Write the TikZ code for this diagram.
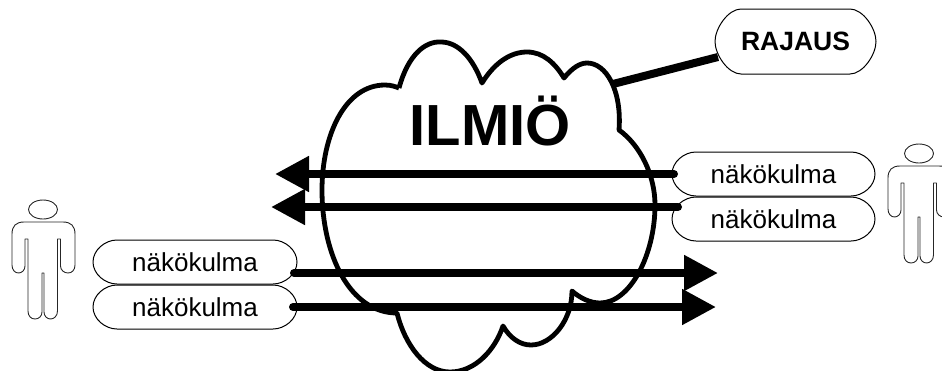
\documentclass[tikz,border=0pt]{standalone}
\usepackage{fontspec}
\setmainfont{Liberation Sans}
\usetikzlibrary{arrows.meta,calc}
\tikzset{
  pill/.style={inner sep=0pt,outer sep=0pt,
    minimum width=204pt,minimum height=44pt,font=\fontsize{26}{28}\selectfont},
  pillline/.style={draw=black,line width=1pt,fill=white,line join=round},
  bigarrow/.style={line width=8pt,line cap=round,-{Triangle[width=34pt,length=34pt]}},
  cloudline/.style={line width=4.8pt,line join=round},
  person/.pic={
    \draw[line width=0.9pt,draw=black!85] (43,209.5) ellipse [x radius=14.5,y radius=9.5];
    \draw[line width=0.9pt,draw=black!85,line join=round]
      (12,234) .. controls (12,226) and (16,222) .. (24,222) -- (63,222)
      .. controls (71,222) and (75,226) .. (75,234) -- (75,265)
      .. controls (75,270) and (72,273) .. (68,273) .. controls (64,273) and (60.5,270) .. (60.5,266)
      -- (60.5,239) -- (57.5,239) -- (57.5,311)
      .. controls (57.5,316) and (54,319) .. (50.5,319) .. controls (47,319) and (44,316) .. (44,312)
      -- (44,273) -- (42,273) -- (42,312)
      .. controls (42,316) and (39,319) .. (35,319) .. controls (31,319) and (28,316) .. (28,311)
      -- (28,239) -- (25,239) -- (25,266)
      .. controls (25,270) and (22,273) .. (18.5,273) .. controls (15,273) and (12,270) .. (12,265) -- cycle;
  }
}
% outline of a pill round node #1, with corner reach #2
\newcommand{\pilloutline}[2]{%
  \draw[pillline] (#1.west)
    .. controls ($(#1.west)+(0,{-0.5*#2})$) and ($(#1.north west)+({0.5*#2},0)$) .. ($(#1.north west)+(#2,0)$)
    -- ($(#1.north east)+({-#2},0)$)
    .. controls ($(#1.north east)+({-0.5*#2},0)$) and ($(#1.east)+(0,{-0.5*#2})$) .. (#1.east)
    .. controls ($(#1.east)+(0,{0.5*#2})$) and ($(#1.south east)+({-0.5*#2},0)$) .. ($(#1.south east)+({-#2},0)$)
    -- ($(#1.south west)+(#2,0)$)
    .. controls ($(#1.south west)+({0.5*#2},0)$) and ($(#1.west)+(0,{0.5*#2})$) .. (#1.west) -- cycle;}
\begin{document}
\begin{tikzpicture}[x=1pt,y=-1pt]
\path[use as bounding box,clip] (0,0) rectangle (942,370);
% text boxes
\path node[pill] (pl1) at (195,262) {\phantom{näkökulma}};
\path node[pill] (pl2) at (195,307) {\phantom{näkökulma}};
\path node[pill,minimum width=203pt] (pr1) at (773.5,174) {\phantom{näkökulma}};
\path node[pill,minimum width=203pt] (pr2) at (773.5,219) {\phantom{näkökulma}};
\path node[pill,minimum width=161pt,minimum height=65pt] (raj) at (795.5,41.5) {};
\pilloutline{pl1}{24}
\pilloutline{pl2}{24}
\pilloutline{pr1}{24}
\pilloutline{pr2}{24}
\pilloutline{raj}{26}
\node[pill,minimum size=0pt] (tl1) at (pl1) {näkökulma};
\node[pill,minimum size=0pt] (tl2) at (pl2) {näkökulma};
\node[pill,minimum size=0pt] (tr1) at (pr1) {näkökulma};
\node[pill,minimum size=0pt] (tr2) at (pr2) {näkökulma};
\node[inner sep=0pt,font=\fontsize{26.5}{28}\selectfont\bfseries] (tr3) at (raj) {RAJAUS};
% cloud
\draw[cloudline] (399,88)
  .. controls (408,55) and (425,41) .. (441,42)
  .. controls (458,42) and (473,58) .. (482,83)
  .. controls (495,62) and (511,52) .. (527,52)
  .. controls (543,52) and (555,63) .. (564,78)
  .. controls (572,68) and (580,63) .. (587,63)
  .. controls (606,63) and (622,90) .. (619,130)
  .. controls (640,145) and (655,175) .. (655,205)
  .. controls (655,255) and (630,303) .. (600,303)
  .. controls (590,303) and (580,298) .. (572,291)
  .. controls (572,320) and (552,345) .. (531,345)
  .. controls (520,345) and (510,338) .. (503,326)
  .. controls (495,350) and (475,372) .. (450,372)
  .. controls (425,372) and (405,345) .. (397,313)
  .. controls (350,313) and (322,255) .. (322,190)
  .. controls (322,135) and (345,85) .. (385,85)
  .. controls (392,85) and (396,87) .. (399,88);
\node[anchor=base,inner sep=0pt,font=\fontsize{58}{60}\selectfont\bfseries] (ilmio) at (490,145) {ILMIÖ};
% free ends
\coordinate (er1) at (718,273);
\coordinate (er2) at (716,307);
\coordinate (el1) at (275,174);
\coordinate (el2) at (271,207);
\coordinate (rajend) at (613,84);
% connectors
\draw[bigarrow] ([xshift=-3pt]pl1.east |- er1) -- (er1);
\draw[bigarrow] ([xshift=-4pt]pl2.east |- er2) -- (er2);
\draw[bigarrow] ([xshift=2pt]pr1.west |- el1) -- (el1);
\draw[bigarrow] ([xshift=6pt]pr2.west |- el2) -- (el2);
\draw[line width=8pt] ($(raj.west |- 0,57)+(3,0)$) -- (rajend);
% people
\pic at (0,0) {person};
\pic at (876,-56) {person};
\end{tikzpicture}
\end{document}
